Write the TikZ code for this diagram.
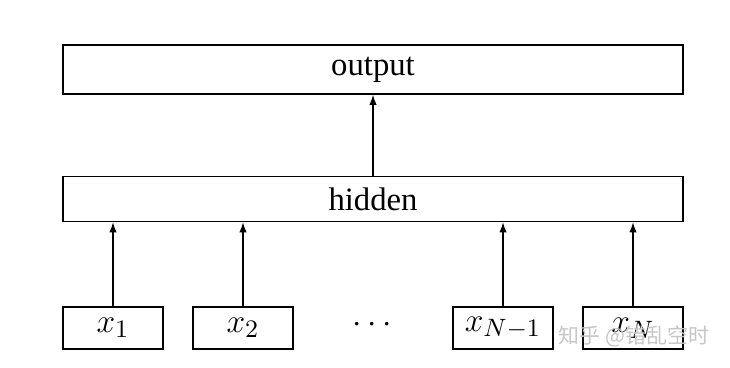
\documentclass[tikz,border=0pt]{standalone}
\usepackage[no-math]{fontspec}
\setmainfont{Liberation Serif}
\newfontfamily\cjk{Noto Sans CJK SC}
\usetikzlibrary{arrows.meta}
\DeclareMathSizes{11.5}{11.5}{9.2}{7}
\begin{document}
\def\u{0.358pt}
\begin{tikzpicture}[x=0.358pt,y=-0.358pt,
  box/.style={draw,line width=0.5pt,inner sep=0pt,font=\fontsize{11.7}{14}\selectfont},
  wide/.style={box,minimum width={620*\u}},
  inbox/.style={box,minimum width={100*\u},minimum height={42*\u},font=\fontsize{11.5}{14}\selectfont},
  arr/.style={line width=0.45pt,-{Latex[length=3.6pt,width=2.6pt]}}]
\useasboundingbox (0,0) rectangle (730,367);
\node[wide,minimum height={49*\u}] (output) at (373,69.5) {output};
\node[wide,minimum height={45*\u}] (hidden) at (373,199) {hidden};
\node[inbox] (x1) at (113,328) {$x_1$};
\node[inbox] (x2) at (243,328) {$x_2$};
\node[font=\fontsize{12.5}{14}\selectfont] (dots) at (372,325) {$\cdots$};
\node[inbox] (xn1) at (503,328) {$x_{N-1}$};
\node[inbox] (xn) at (633,328) {$x_N$};
\draw[arr] (x1.north) -- (x1.north|-hidden.south);
\draw[arr] (x2.north) -- (x2.north|-hidden.south);
\draw[arr] (xn1.north) -- (xn1.north|-hidden.south);
\draw[arr] (xn.north) -- (xn.north|-hidden.south);
\draw[arr] (hidden.north) -- (output.south);
\node[text=gray!45,font=\cjk\fontsize{7.5}{9}\selectfont,inner sep=0pt] (wm) at (634,336) {知乎 @错乱空时};
\end{tikzpicture}
\end{document}
